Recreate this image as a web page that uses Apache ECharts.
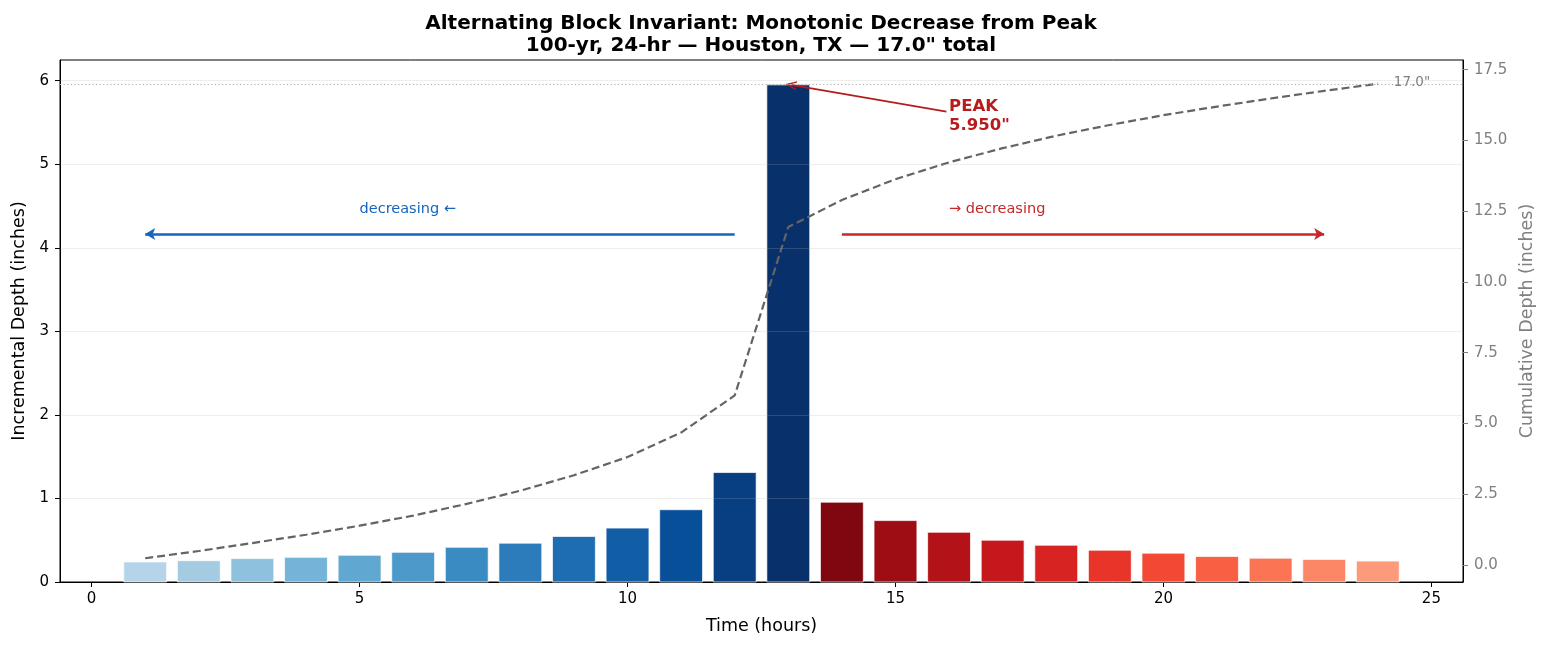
<!DOCTYPE html>
<html><head><meta charset="utf-8">
<script src="https://cdn.jsdelivr.net/npm/echarts@6/dist/echarts.min.js"></script>
<style>html,body{margin:0;padding:0;background:#fff}#c{width:1548px;height:648px}</style>
</head><body><div id="c"></div>
<script>
// ---- data ----
const hours = [1,2,3,4,5,6,7,8,9,10,11,12,13,14,15,16,17,18,19,20,21,22,23,24];
const depth = [0.24,0.255,0.28,0.295,0.32,0.355,0.415,0.465,0.545,0.645,0.865,1.31,
               5.95,0.955,0.735,0.595,0.50,0.44,0.38,0.345,0.305,0.285,0.27,0.25];
const cumulative = [0.24,0.495,0.775,1.07,1.39,1.745,2.16,2.625,3.17,3.815,4.68,5.99,
                    11.94,12.895,13.63,14.225,14.725,15.165,15.545,15.89,16.195,16.48,16.75,17.0];
const xTicks = [0,5,10,15,20,25];
const leftTicks = [0,1,2,3,4,5,6];
const rightTicks = [0,2.5,5,7.5,10,12.5,15,17.5];
const peakHour = 13;
const peakValue = 5.95;
const totalDepth = 17.0;
const titleLines = ['Alternating Block Invariant: Monotonic Decrease from Peak',
                    '100-yr, 24-hr \u2014 Houston, TX \u2014 17.0" total'];

// ---- colours (matplotlib Blues / Reds colormaps) ----
const BLUES = ['#f7fbff','#deebf7','#c6dbef','#9ecae1','#6baed6','#4292c6','#2171b5','#08519c','#08306b'];
const REDS  = ['#fff5f0','#fee0d2','#fcbba1','#fc9272','#fb6a4a','#ef3b2c','#cb181d','#a50f15','#67000d'];
function cmap(stops, t){
  const n = stops.length - 1, p = Math.min(Math.max(t,0),1)*n, i = Math.min(Math.floor(p), n-1), f = p - i;
  const a = stops[i], b = stops[i+1];
  const c = k => Math.round(parseInt(a.substr(k,2),16)*(1-f) + parseInt(b.substr(k,2),16)*f);
  return 'rgb(' + c(1) + ',' + c(3) + ',' + c(5) + ')';
}
const nLeft = hours.filter(h => h <= peakHour).length;
const nRight = hours.length - nLeft;
const colors = hours.map((h, i) => {
  if (h <= peakHour) return cmap(BLUES, 0.3 + 0.7 * i / (nLeft - 1));
  const j = i - nLeft;
  return cmap(REDS, 0.95 - 0.6 * j / (nRight - 1));
});

const FONT = 'DejaVu Sans';
const chart = echarts.init(document.getElementById('c'), null, {renderer: 'canvas'});

const barData = hours.map((h, i) => [h, depth[i]]);
const cumData = hours.map((h, i) => [h, cumulative[i]]);
const arrowY = peakValue * 0.7;
const textY = peakValue * 0.75;

chart.setOption({
  animation: false,
  backgroundColor: '#fff',
  title: {
    text: titleLines.join('\n'),
    left: 756, top: 8, textAlign: 'center',
    textStyle: {fontFamily: FONT, fontWeight: 'bold', fontSize: 20, lineHeight: 22, color: '#000'}
  },
  grid: {left: 60, right: 85, top: 60, bottom: 66, show: true, borderColor: '#000', borderWidth: 1,
         backgroundColor: 'transparent', outerBoundsMode: 'none'},
  xAxis: {
    type: 'value', min: -0.59, max: 25.59,
    name: 'Time (hours)', nameLocation: 'middle', nameGap: 35,
    nameTextStyle: {fontFamily: FONT, fontSize: 17.5, color: '#000'},
    axisLine: {show: true, onZero: false, lineStyle: {color: '#000', width: 1}},
    axisTick: {show: true, length: 5, customValues: xTicks, lineStyle: {color: '#000'}},
    axisLabel: {customValues: xTicks, margin: 10, fontFamily: FONT, fontSize: 15, color: '#000'},
    splitLine: {show: false}
  },
  yAxis: [{
    type: 'value', min: 0, max: 6.2475, position: 'left',
    name: 'Incremental Depth (inches)', nameLocation: 'middle', nameGap: 31, nameRotate: 90,
    nameTextStyle: {fontFamily: FONT, fontSize: 17.5, color: '#000'},
    axisLine: {show: true, onZero: false, lineStyle: {color: '#000', width: 1}},
    axisTick: {show: true, length: 5, customValues: leftTicks, lineStyle: {color: '#000'}},
    axisLabel: {customValues: leftTicks, margin: 11, fontFamily: FONT, fontSize: 15, color: '#000'},
    splitLine: {show: false}
  }, {
    type: 'value', min: -0.6, max: 17.84, position: 'right',
    name: 'Cumulative Depth (inches)', nameLocation: 'middle', nameGap: 54, nameRotate: 90,
    nameTextStyle: {fontFamily: FONT, fontSize: 17.5, color: '#808080'},
    axisLine: {show: true, onZero: false, lineStyle: {color: '#000', width: 1}},
    axisTick: {show: true, length: 5, customValues: rightTicks, lineStyle: {color: '#808080'}},
    axisLabel: {customValues: rightTicks, margin: 11, fontFamily: FONT, fontSize: 15, color: '#808080',
                formatter: v => v.toFixed(1)},
    splitLine: {show: false}
  }],
  series: [{
    type: 'custom', name: 'Incremental', xAxisIndex: 0, yAxisIndex: 0,
    data: barData, encode: {x: 0, y: 1}, z: 2,
    renderItem: function (params, api) {
      const x = api.value(0), y = api.value(1);
      const p0 = api.coord([x - 0.4, y]);
      const p1 = api.coord([x + 0.4, 0]);
      return {type: 'rect', shape: {x: p0[0], y: p0[1], width: p1[0] - p0[0], height: p1[1] - p0[1]},
              style: {fill: colors[params.dataIndex], stroke: '#fff', lineWidth: 0.7}};
    },
    markLine: {
      silent: true, symbol: 'none', label: {show: false}, animation: false,
      data: leftTicks.filter(v => v > 0).map(v => ({yAxis: v, lineStyle: {color: '#b0b0b0', opacity: 0.28, width: 0.8, type: 'solid'}}))
        .concat([
          [{coord: [12, arrowY], symbol: 'none'},
           {coord: [1, arrowY], symbol: 'arrow', symbolSize: [9, 10], lineStyle: {color: '#1565c0', width: 2.5, type: 'solid', opacity: 1}}],
          [{coord: [14, arrowY], symbol: 'none'},
           {coord: [23, arrowY], symbol: 'arrow', symbolSize: [9, 10], lineStyle: {color: '#c62828', width: 2.5, type: 'solid', opacity: 1}}],
          [{coord: [15.95, 5.63], symbol: 'none'},
           {coord: [13.05, peakValue], symbol: 'path://M0,12 L5,0 L10,12 L8.4,12 L5,3.6 L1.6,12 Z', symbolSize: [9, 11],
            lineStyle: {color: '#b71c1c', width: 1.8, type: 'solid', opacity: 1}}]
        ])
    },
    markPoint: {
      silent: true, symbol: 'circle', symbolSize: 0, animation: false,
      data: [
        {coord: [5, textY], label: {show: true, formatter: 'decreasing \u2190', position: [0, 0], align: 'left', verticalAlign: 'middle',
          fontFamily: FONT, fontSize: 14.5, color: '#1565c0'}},
        {coord: [16, textY], label: {show: true, formatter: '\u2192 decreasing', position: [0, 0], align: 'left', verticalAlign: 'middle',
          fontFamily: FONT, fontSize: 14.5, color: '#c62828'}},
        {coord: [16, 5.57], label: {show: true, formatter: 'PEAK\n' + peakValue.toFixed(3) + '"', position: [0, 0], align: 'left', verticalAlign: 'middle',
          fontFamily: FONT, fontSize: 16.5, fontWeight: 'bold', lineHeight: 19, color: '#b71c1c'}}
      ]
    }
  }, {
    type: 'line', name: 'Cumulative', xAxisIndex: 0, yAxisIndex: 1,
    data: cumData, symbol: 'none', z: 3,
    lineStyle: {color: '#646464', width: 2.2, type: [8, 4]},
    markLine: {
      silent: true, symbol: 'none', label: {show: false}, animation: false,
      data: [{yAxis: totalDepth, lineStyle: {color: '#aaaaaa', width: 1.2, type: [1.2, 2.4]}}]
    },
    markPoint: {
      silent: true, symbol: 'circle', symbolSize: 0, animation: false,
      data: [{coord: [24.3, totalDepth], label: {show: true, formatter: totalDepth.toFixed(1) + '"', position: [0, -1], align: 'left', verticalAlign: 'middle',
        fontFamily: FONT, fontSize: 13.5, color: '#808080'}}]
    }
  }]
});
</script>
</body></html>
